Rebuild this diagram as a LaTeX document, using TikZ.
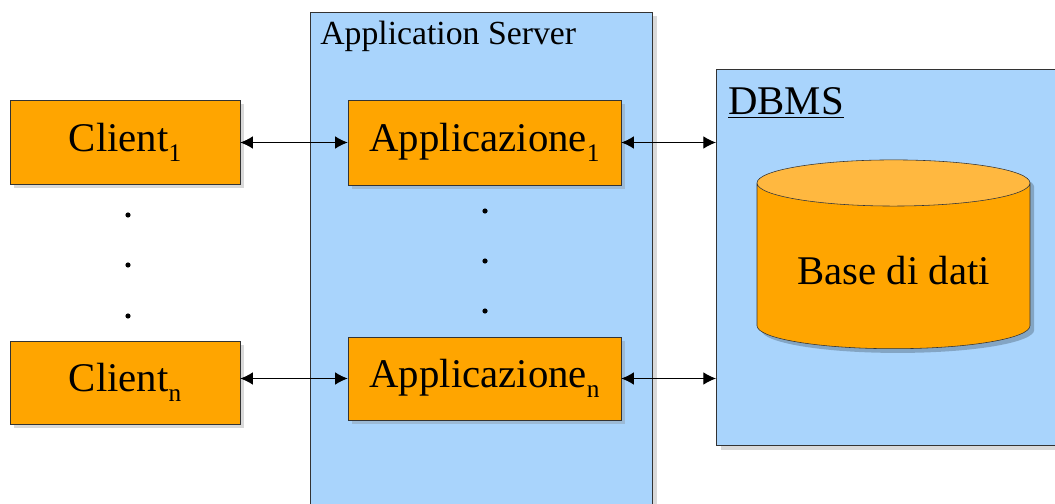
\documentclass[tikz,border=0pt]{standalone}
\usepackage{fontspec}
\setmainfont{Liberation Serif}
\usetikzlibrary{shapes.geometric,shadows,arrows.meta}

\definecolor{boxorange}{HTML}{FFA500}
\definecolor{cyltop}{HTML}{FFB840}
\definecolor{srvblue}{HTML}{A9D4FC}
\definecolor{edgegray}{HTML}{333333}

\newcommand{\idx}[1]{\raisebox{-7pt}{\fontsize{18}{18}\selectfont #1}}

\begin{document}
\begin{tikzpicture}[>={Latex[length=9pt,width=9pt]},
    softshadow/.style={drop shadow={shadow xshift=3pt,shadow yshift=-3pt,opacity=0.3}},
    procbox/.style={draw=edgegray,fill=boxorange,inner sep=0pt,minimum height=2.1cm,softshadow},
    tierbox/.style={draw=edgegray,fill=srvblue,inner sep=0pt,softshadow},
    dbcyl/.style={cylinder,shape border rotate=90,aspect=0.21,minimum width=6.825cm,minimum height=4.72cm},
    link/.style={<->,line width=0.8pt}]
    \clip (0,0) rectangle (26.375,12.575);
    \fontsize{29}{34}\selectfont

    % containers
    \node[tierbox,anchor=north west,minimum width=8.55cm,minimum height=13cm] (srv) at (7.75,12.275) {};
    \node[tierbox,anchor=south west,minimum width=9.5cm,minimum height=9.4cm] (dbms) at (17.9,1.425) {};
    \node[anchor=base west,inner sep=0pt,font=\fontsize{24}{28}\selectfont] (srvlabel) at (8.0,11.45) {Application Server};
    \node[anchor=base west,inner sep=0pt] (dbmslabel) at (18.2,9.7) {\underline{DBMS}};

    % clients and applications
    \node[procbox,minimum width=5.75cm] (c1) at (3.125,9.025) {Client\idx{1}};
    \node[procbox,minimum width=5.75cm,minimum height=2.075cm] (cn) at (3.125,3.0125) {Client\idx{n}};
    \node[procbox,minimum width=6.825cm,minimum height=2.125cm] (a1) at (12.1125,9.0125) {Applicazione\idx{1}};
    \node[procbox,minimum width=6.825cm,minimum height=2.075cm] (an) at (12.1125,3.1125) {Applicazione\idx{n}};

    % database, shadow first
    \node[dbcyl,fill=black,fill opacity=0.22] (dbshadow) at ([shift={(3pt,-3pt)}]22.3375,5.8) {\phantom{Base di dati}};
    \node[dbcyl,draw=edgegray,cylinder uses custom fill,cylinder body fill=boxorange,
      cylinder end fill=cyltop] (db) at (22.3375,5.8) {Base di dati};

    \foreach \y in {7.2,5.95,4.675} \fill (3.2,\y) circle (0.065);
    \foreach \y in {7.3,6.05,4.8} \fill (12.125,\y) circle (0.065);

    % links
    \draw[link] (c1.east |- a1.west) -- (a1.west);
    \draw[link] (cn.east |- an.west) -- (an.west);
    \draw[link] (a1.east) -- (a1.east -| dbms.west);
    \draw[link] (an.east) -- (an.east -| dbms.west);
\end{tikzpicture}
\end{document}
